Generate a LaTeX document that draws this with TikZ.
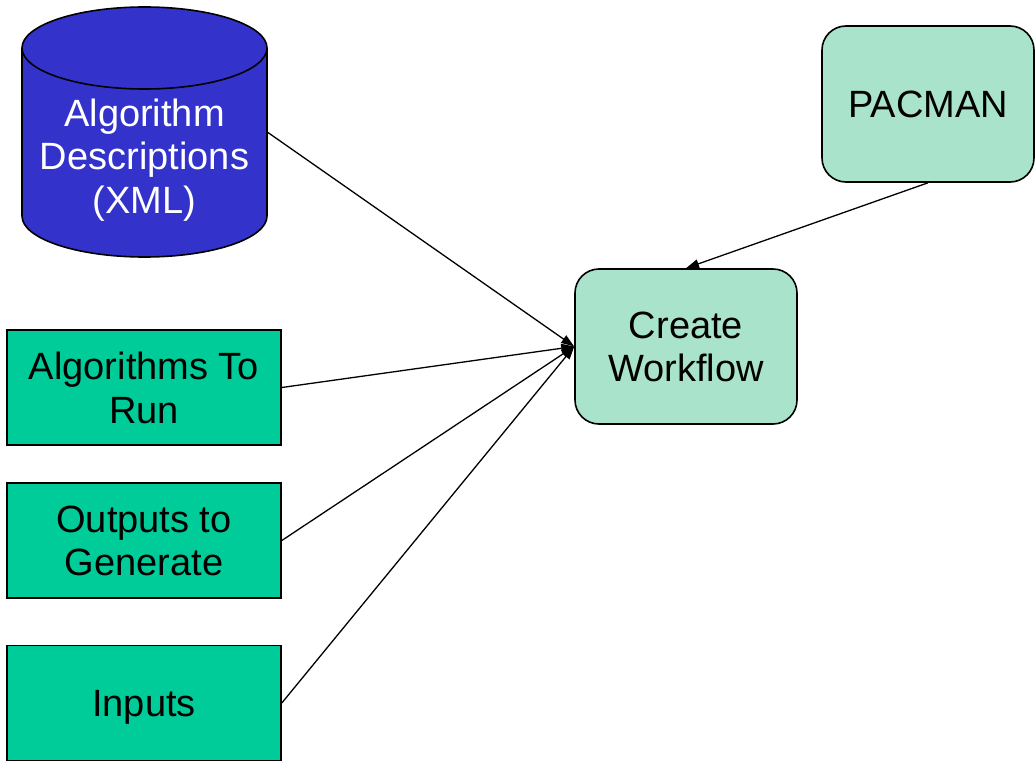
\documentclass[tikz,border=0pt]{standalone}
\usepackage{fontspec}
\setmainfont{Liberation Sans}
\usetikzlibrary{arrows.meta}
\definecolor{dbblue}{HTML}{3333CC}
\definecolor{inputgreen}{HTML}{00CC99}
\definecolor{procgreen}{HTML}{A9E3CB}

\begin{document}
\begin{tikzpicture}[x=1pt,y=-1pt,
  every node/.style={font=\fontsize{38}{43.5}\selectfont, align=center, inner sep=0pt, text depth=0pt},
  inputbox/.style={draw=black, line width=1.6pt, fill=inputgreen,
                   minimum width=274pt, minimum height=115pt},
  procbox/.style={draw=black, line width=1.6pt, fill=procgreen, rounded corners=24pt},
  link/.style={-{Triangle[length=13pt,width=9pt]}, line width=1.3pt}]

\useasboundingbox (0,0) rectangle (1035,762);

% XML store drawn as a cylinder
\fill[dbblue] (22,48) -- (22,216) arc[start angle=180, end angle=360, x radius=122.5pt, y radius=41pt]
  -- (267,48) arc[start angle=0, end angle=180, x radius=122.5pt, y radius=41pt] -- cycle;
\draw[line width=1.6pt] (22,48) -- (22,216) arc[start angle=180, end angle=360, x radius=122.5pt, y radius=41pt]
  -- (267,48);
\draw[line width=1.6pt] (144.5,48) ellipse[x radius=122.5pt, y radius=41pt];
\node[minimum width=245pt, minimum height=250pt] (xml) at (144.5,132) {};
\node[text=white] at (144.5,156) {Algorithm\\Descriptions\\(XML)};

% inputs
\node[inputbox] (alg) at (144,387.5) {Algorithms To\\Run};
\node[inputbox] (out) at (144,540.5) {Outputs to\\Generate};
\node[inputbox] (inp) at (144,703) {Inputs};

% processing steps
\node[procbox, minimum width=222pt, minimum height=155pt] (wf) at (686,346.5) {Create\\Workflow};
\node[procbox, minimum width=212pt, minimum height=156pt] (pac) at (928,104) {PACMAN};

% connectors
\draw[link] (xml.east) -- (wf.west);
\draw[link] (alg.east) -- (wf.west);
\draw[link] (out.east) -- (wf.west);
\draw[link] (inp.east) -- (wf.west);
\draw[link] (pac.south) -- (wf.north);
\end{tikzpicture}
\end{document}
